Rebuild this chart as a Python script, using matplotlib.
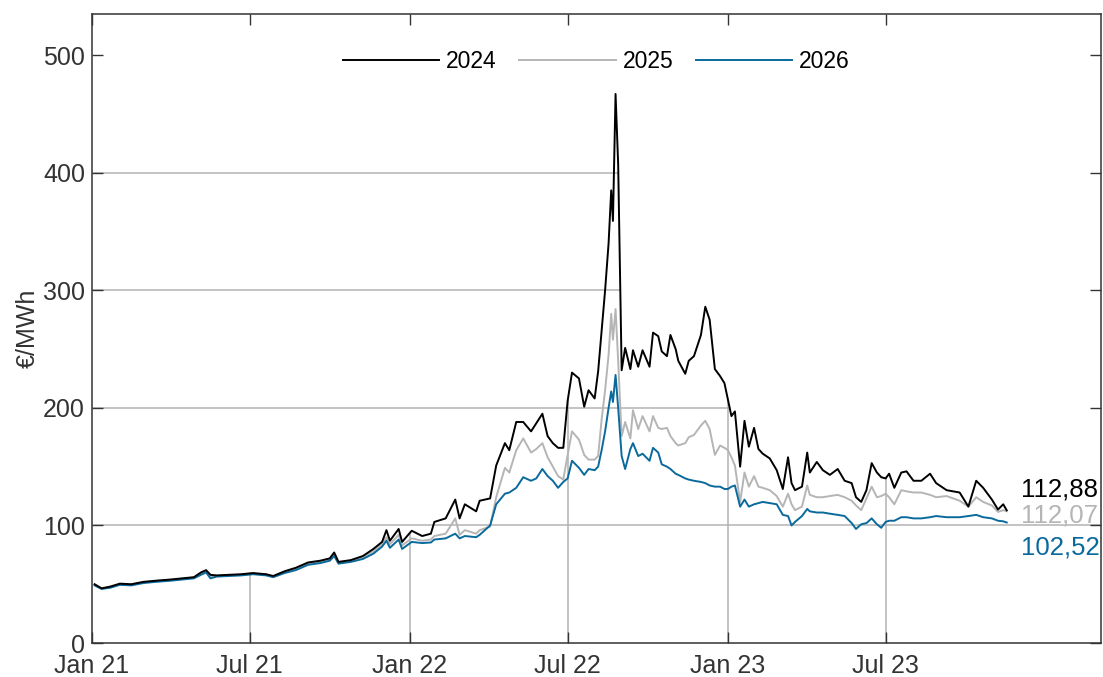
import matplotlib
matplotlib.use("Agg")
import matplotlib.pyplot as plt
import matplotlib.dates as mdates
import numpy as np
import pandas as pd

plt.rcParams['font.family'] = ['Liberation Sans', 'DejaVu Sans']

dates = [
    "2021-01-04", "2021-01-12", "2021-01-22", "2021-02-02", "2021-02-15", "2021-03-01",
    "2021-03-15", "2021-04-01", "2021-04-15", "2021-04-28", "2021-05-06", "2021-05-12",
    "2021-05-17", "2021-05-24", "2021-06-07", "2021-06-21", "2021-07-05", "2021-07-20",
    "2021-07-28", "2021-08-10", "2021-08-23", "2021-09-06", "2021-09-20", "2021-10-01",
    "2021-10-06", "2021-10-11", "2021-10-25", "2021-11-08", "2021-11-20", "2021-11-30",
    "2021-12-05", "2021-12-09", "2021-12-19", "2021-12-23", "2022-01-03", "2022-01-15",
    "2022-01-25", "2022-01-29", "2022-02-11", "2022-02-22", "2022-02-27", "2022-03-05",
    "2022-03-18", "2022-03-22", "2022-04-03", "2022-04-10", "2022-04-20", "2022-04-25",
    "2022-05-03", "2022-05-11", "2022-05-20", "2022-05-26", "2022-06-02", "2022-06-08",
    "2022-06-14", "2022-06-20", "2022-06-26", "2022-07-01", "2022-07-06", "2022-07-14",
    "2022-07-20", "2022-07-25", "2022-08-01", "2022-08-05", "2022-08-09", "2022-08-13",
    "2022-08-17", "2022-08-20", "2022-08-22", "2022-08-25", "2022-08-28", "2022-09-01",
    "2022-09-05", "2022-09-11", "2022-09-14", "2022-09-20", "2022-09-25", "2022-10-03",
    "2022-10-07", "2022-10-13", "2022-10-17", "2022-10-23", "2022-10-27", "2022-11-02",
    "2022-11-05", "2022-11-13", "2022-11-17", "2022-11-23", "2022-12-01", "2022-12-06",
    "2022-12-11", "2022-12-17", "2022-12-23", "2022-12-28", "2023-01-01", "2023-01-05",
    "2023-01-09", "2023-01-15", "2023-01-20", "2023-01-25", "2023-01-31", "2023-02-05",
    "2023-02-10", "2023-02-18", "2023-02-26", "2023-03-05", "2023-03-11", "2023-03-15",
    "2023-03-19", "2023-03-27", "2023-04-02", "2023-04-05", "2023-04-13", "2023-04-20",
    "2023-04-28", "2023-05-07", "2023-05-15", "2023-05-23", "2023-05-28", "2023-06-03",
    "2023-06-09", "2023-06-15", "2023-06-21", "2023-06-26", "2023-07-01", "2023-07-05",
    "2023-07-11", "2023-07-19", "2023-07-25", "2023-08-02", "2023-08-11", "2023-08-21",
    "2023-08-28", "2023-09-09", "2023-09-24", "2023-10-04", "2023-10-13", "2023-10-21",
    "2023-10-31", "2023-11-07", "2023-11-13", "2023-11-17",
]

cal_2024 = [
    50, 46.5, 48, 50.5, 50, 52, 53, 54, 55, 56, 60, 62,
    58, 57.5, 58, 58.5, 59.5, 58.5, 57, 61, 64, 68.5, 70, 72,
    77, 69, 70.5, 74, 80, 86, 96, 87, 97, 86, 95.5, 91,
    93, 103, 106, 122, 106, 118, 112, 121, 123, 151, 170, 164,
    188, 188, 180, 187, 195, 176, 170, 166, 166, 206, 230, 225,
    201, 215, 208, 231, 265, 300, 340, 385, 359, 467, 407, 232,
    251, 233, 249, 235, 249, 235, 264, 261, 248, 244, 262, 250,
    240, 229, 240, 244, 262, 286, 275, 233, 227, 221, 207, 193,
    197, 150, 189, 167, 183, 165, 161, 157, 147, 131, 158, 136,
    130, 133, 162, 145, 154, 147, 143, 148, 138, 136, 124, 120,
    130, 153, 145, 141, 140, 144, 132, 145, 146, 138, 138, 144,
    136, 130, 128, 116, 138, 132, 122, 113.5, 118, 112.88,
]

cal_2025 = [
    49.5, 46.5, 47.5, 50, 49.5, 51.5, 52.5, 53.5, 54.5, 55.5, 59, 61,
    57, 57, 57.5, 58, 59, 58, 56.5, 60, 63, 67.5, 69, 71,
    75.5, 68, 70, 73, 78, 84, 90, 84, 92, 83, 89, 87,
    88, 91, 93, 106, 92, 96, 93, 96, 99, 124, 149, 145,
    164, 174, 162, 165, 170, 158, 150, 142, 139, 160, 180, 173,
    160, 156, 156, 159, 190, 215, 245, 280, 258, 284, 240, 176,
    188, 174, 198, 182, 193, 180, 193, 183, 182, 183, 176, 170,
    168, 170, 175, 177, 185, 189, 182, 160, 168, 166, 164, 158,
    151, 120, 145, 133, 142, 133, 132, 130, 125, 116, 127, 118,
    113, 116, 134, 126, 124, 124, 125, 126, 124, 121, 117, 113,
    123, 133, 124, 125, 127, 124, 118, 130, 129, 128, 128, 126,
    124, 125, 121, 116, 124, 120, 117, 111.5, 113, 112.07,
]

cal_2026 = [
    49, 46, 47, 49.5, 49, 51, 52, 53, 54, 55, 58, 60,
    55, 56.5, 57, 57.5, 58.5, 57.5, 56, 59.5, 62, 66.5, 68, 70,
    74, 67.5, 69, 71.5, 76, 82, 87, 81, 88, 80, 86, 85,
    85.5, 88, 89, 93, 89, 91, 90, 92, 100, 118, 127, 128,
    132, 141, 138, 140, 148, 142, 138, 132, 137, 140, 155, 149,
    143, 148, 147, 150, 164, 180, 200, 214, 205, 228, 200, 159,
    148, 165, 170, 159, 161, 155, 166, 162, 152, 150, 148, 144,
    143, 140, 139, 138, 137, 136, 134, 133, 133, 131, 131, 133,
    134, 116, 122, 116, 118, 119, 120, 119, 118, 109, 108, 100,
    103, 108, 114, 112, 111, 111, 110, 109, 108, 102, 97, 101,
    102, 106, 101, 98, 103, 104, 104, 107, 107, 106, 106, 107,
    108, 107, 107, 108, 109, 107, 106, 104, 103.5, 102.52,
]

series_names = ["2024", "2025", "2026"]
series_colors = ["#000000", "#b5b5b5", "#0a6a9c"]
end_labels = ["112,88", "112,07", "102,52"]

x_ticks = ["2021-01-01", "2021-07-01", "2022-01-01", "2022-07-01", "2023-01-01", "2023-07-01"]
x_tick_labels = ["Jan 21", "Jul 21", "Jan 22", "Jul 22", "Jan 23", "Jul 23"]
y_ticks = [0, 100, 200, 300, 400, 500]

x = pd.to_datetime(dates)
xnum = mdates.date2num(x)
xt = mdates.date2num(pd.to_datetime(x_ticks))
x_min = mdates.date2num(pd.Timestamp("2021-01-01"))
x_max = mdates.date2num(pd.Timestamp("2024-03-04"))
grid_col = "#b3b3b3"
ink = "#333333"

fig = plt.figure(figsize=(11.03, 6.77), dpi=100)
ax = fig.add_axes([0.0834, 0.0502, 0.9146, 0.9291])

top = np.array(cal_2024)

# horizontal guides run from the axis to where the 2024 curve last drops below them
for lev in y_ticks[1:]:
    above = np.where(top >= lev)[0]
    if len(above) == 0:
        continue
    i = above[-1]
    if i == len(top) - 1:
        xe = x_max
    else:
        xe = xnum[i] + (top[i] - lev) / (top[i] - top[i + 1]) * (xnum[i + 1] - xnum[i])
    ax.plot([x_min, xe], [lev, lev], color=grid_col, lw=1.1, zorder=1)

# vertical guides go up to the 2024 curve
for t in xt[1:]:
    ax.plot([t, t], [0, np.interp(t, xnum, top)], color=grid_col, lw=1.1, zorder=1)

data = [cal_2024, cal_2025, cal_2026]
for k in [1, 2, 0]:
    ax.plot(xnum, data[k], color=series_colors[k], lw=1.4, label=series_names[k], zorder=3)

offsets = [15, -3, -18]
for k in range(3):
    ax.annotate(end_labels[k], (xnum[-1], data[k][-1]), xytext=(10, offsets[k]),
                textcoords="offset points", va="center", ha="left",
                color=series_colors[k], fontsize=18.5)

h, l = ax.get_legend_handles_labels()
order = [l.index(n) for n in series_names]
ax.legend([h[i] for i in order], [l[i] for i in order], loc="center",
          bbox_to_anchor=(0.5, 0.925), ncol=3, frameon=False, fontsize=16.5,
          handlelength=4.2, columnspacing=1.0, handletextpad=0.3)

ax.set_xlim(x_min, x_max)
ax.set_ylim(0, 535)
ax.set_xticks(xt)
ax.set_xticklabels(x_tick_labels)
ax.set_yticks(y_ticks)
ax.tick_params(direction="in", top=True, right=True, length=8, width=1.0,
               color=ink, labelcolor=ink, labelsize=18)
ax.tick_params(axis="x", pad=8)
ax.tick_params(axis="y", pad=5)
for s in ax.spines.values():
    s.set_color(ink)
    s.set_linewidth(1.1)
ax.set_ylabel("€/MWh", fontsize=18, color=ink, labelpad=2)

fig.savefig("out.png", dpi=100)
